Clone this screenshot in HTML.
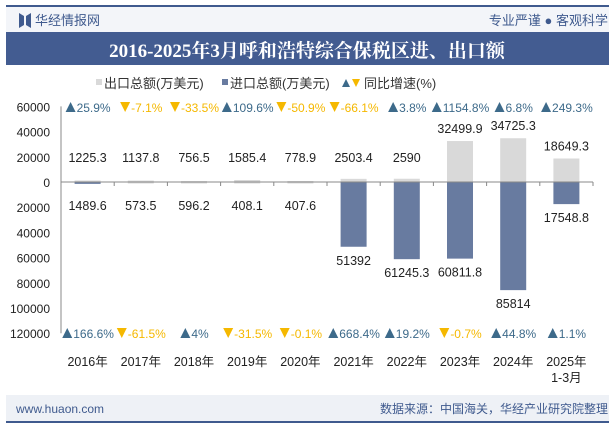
<!DOCTYPE html>
<html><head><meta charset="utf-8"><style>
body{margin:0;width:615px;height:427px;overflow:hidden;background:#fff;font-family:"Liberation Sans","Noto Sans CJK SC",sans-serif}
svg text{font-family:"Liberation Sans","Noto Sans CJK SC",sans-serif}
</style></head><body>
<svg width="615" height="427">
<rect x="0" y="0" width="615" height="427" fill="#fff"/>
<rect x="6" y="5" width="603" height="2" fill="#3f5a8e"/>
<rect x="6" y="7" width="603" height="25" fill="#f3f5f9"/>
<path d="M19,13 l5,3 v9 l-5,3z M31,13 l-5,3 v9 l5,3z" fill="#3f5a8e"/>
<text x="35" y="25" font-size="13" fill="#3f5a8e">华经情报网</text>
<text x="608" y="25" font-size="13" fill="#3f5a8e" text-anchor="end">专业严谨 ● 客观科学</text>
<rect x="6" y="32" width="603" height="33" fill="#435c91"/>
<text x="307" y="57" font-size="19" font-weight="bold" fill="#fff" text-anchor="middle" style="font-family:'Liberation Serif','Noto Serif CJK SC',serif">2016-2025年3月呼和浩特综合保税区进、出口额</text>
<g font-size="13" fill="#333">
<rect x="96" y="79" width="6" height="6" fill="#d9d9d9"/>
<text x="104" y="88">出口总额(万美元)</text>
<rect x="222" y="79" width="6" height="6" fill="#687ba0"/>
<text x="230" y="88">进口总额(万美元)</text>
<polygon points="342,87 346,79 350,87" fill="#3d6a8a"/>
<polygon points="352,79 360,79 356,87" fill="#f5b800"/>
<text x="364" y="88">同比增速(%)</text>
</g>
<g id="plot"></g>
<rect x="6" y="395" width="603" height="26" fill="#eef1f6"/>
<text x="16" y="413" font-size="12" fill="#3f5a8e">www.huaon.com</text>
<text x="608" y="413" font-size="12" fill="#3f5a8e" text-anchor="end">数据来源：中国海关，华经产业研究院整理</text>
<rect x="6" y="421" width="603" height="2" fill="#3f5a8e"/>
</svg>
<script>
const categories=["2016年","2017年","2018年","2019年","2020年","2021年","2022年","2023年","2024年","2025年"];
const exportValues=[1225.3,1137.8,756.5,1585.4,778.9,2503.4,2590,32499.9,34725.3,18649.3];
const importValues=[1489.6,573.5,596.2,408.1,407.6,51392,61245.3,60811.8,85814,17548.8];
const exportGrowth=[25.9,-7.1,-33.5,109.6,-50.9,-66.1,3.8,1154.8,6.8,249.3];
const importGrowth=[166.6,-61.5,4,-31.5,-0.1,668.4,19.2,-0.7,44.8,1.1];
const yTicks=[60000,40000,20000,0,-20000,-40000,-60000,-80000,-100000,-120000];
const NS="http://www.w3.org/2000/svg";
const g=document.getElementById('plot');
const x0=61,x1=593,cw=(x1-x0)/categories.length,zeroY=182,k=75.6/60000;
const y=v=>zeroY-v*k;
const cx=i=>x0+cw*(i+0.5);
function mk(t,a,txt){const e=document.createElementNS(NS,t);for(const n in a)e.setAttribute(n,a[n]);if(txt!==undefined)e.textContent=txt;g.appendChild(e);return e;}
yTicks.forEach(v=>{const e=mk('text',{x:50,y:y(v)+5,'font-size':12,fill:'#222','text-anchor':'end'},String(Math.abs(v)));

});
const ax=mk('line',{x1:x0,y1:y(60000),x2:x0,y2:y(-120000),stroke:'#888'});


const bw=26;
categories.forEach((c,i)=>{
 const ev=exportValues[i],iv=importValues[i];
 const eb=mk('rect',{x:cx(i)-bw/2,y:y(ev),width:bw,height:Math.max(1.5,ev*k),fill:'#d9d9d9'});
 
 
 const ib=mk('rect',{x:cx(i)-bw/2,y:zeroY,width:bw,height:Math.max(1.5,iv*k),fill:i==0?'#687ba0':(iv<2000?'#d9d9d9':'#687ba0')});
 
 
 const el=mk('text',{x:cx(i),y:Math.min(y(ev),zeroY-12)-8,'font-size':12.5,fill:'#222','text-anchor':'middle'},String(ev));
 
 
 const il=mk('text',{x:cx(i),y:Math.max(zeroY+iv*k,zeroY+10)+18,'font-size':12.5,fill:'#222','text-anchor':'middle'},String(iv));
 
 
 [[exportGrowth[i],112,'export-growth-label'],[importGrowth[i],338,'import-growth-label']].forEach(([gv,yy,nm])=>{
  const up=gv>=0,col=up?'#3d6a8a':'#f5b800';
  const t=mk('text',{x:cx(i)+6,y:yy,'font-size':12,fill:col,'text-anchor':'middle'},String(gv)+'%');
  
  
  const w=t.getComputedTextLength(),tx=cx(i)+6-w/2-11;
  const tri=mk('polygon',{points:up?`${tx},${yy} ${tx+5},${yy-10} ${tx+10},${yy}`:`${tx},${yy-10} ${tx+10},${yy-10} ${tx+5},${yy}`,fill:col});
  
  
 });
 const xl=mk('text',{x:cx(i),y:366,'font-size':12.5,fill:'#222','text-anchor':'middle'},c);
 
 
 const tk=mk('line',{x1:x0+cw*(i+1),y1:zeroY,x2:x0+cw*(i+1),y2:zeroY+4,stroke:'#888'});
 
 
});
const sub=mk('text',{x:cx(9),y:382,'font-size':12.5,fill:'#222','text-anchor':'middle'},'1-3月');


const zl=mk('line',{x1:x0,y1:zeroY,x2:x1,y2:zeroY,stroke:'#888'});


</script>
</body></html>
